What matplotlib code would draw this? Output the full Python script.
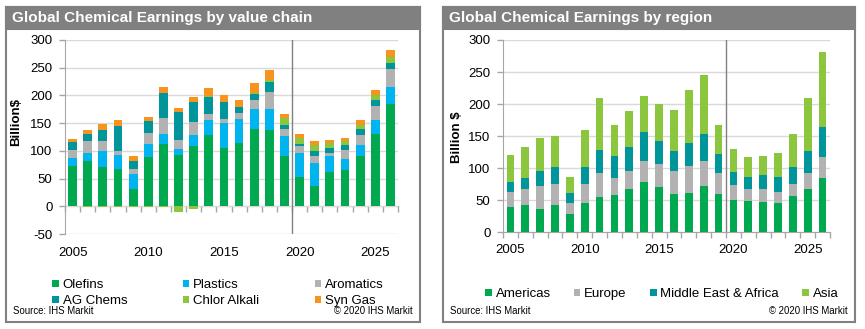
import numpy as np
import matplotlib
matplotlib.use('Agg')
import matplotlib.pyplot as plt
from matplotlib.patches import Rectangle

plt.rcParams['font.family'] = ['Liberation Sans', 'DejaVu Sans']
plt.rcParams['axes.unicode_minus'] = False

years = list(range(2005, 2027))
year_labels = ['2005', '2010', '2015', '2020', '2025']
split_year = 2020

# value chain (billion $)
olefins = [73, 82, 70, 68, 32, 89, 112, 93, 109, 129, 106, 114, 139, 137, 91, 53, 37, 62, 66, 91, 131, 184]
plastics = [14, 15, 29, 25, 26, 24, 18, 10, 19, 27, 44, 43, 36, 38, 35, 43, 41, 28, 19, 20, 24, 31]
aromatics = [15, 20, 18, 7, 10, 20, 30, 17, 24, 11, 8, 12, 17, 31, 13, 13, 12, 7, 17, 18, 26, 32]
ag_chems = [14, 13, 20, 44, 14, 20, 44, 50, 36, 31, 30, 10, 10, 18, 7, 4, 9, 9, 9, 10, 11, 11]
chlor_alkali = [0, -2, -1, -2, -1, -1, -2, -10, -5, 1, 1, 1, 2, 3, 14, 10, 12, 8, 7, 8, 8, 11]
syn_gas = [6, 7, 12, 11, 8, 8, 11, 8, 9, 15, 11, 11, 18, 19, 7, 7, 6, 5, 6, 8, 9, 13]

# region (billion $)
americas = [40, 43, 37, 42, 29, 45, 55, 58, 67, 79, 70, 59, 62, 73, 60, 51, 49, 47, 45, 56, 67, 85]
europe = [23, 24, 36, 33, 16, 30, 37, 26, 28, 33, 37, 37, 41, 38, 33, 23, 19, 20, 18, 19, 25, 33]
mea = [15, 17, 22, 27, 16, 27, 37, 35, 38, 45, 36, 31, 37, 43, 29, 20, 19, 22, 23, 27, 35, 46]
asia = [43, 49, 52, 49, 26, 57, 81, 48, 56, 56, 57, 64, 82, 92, 45, 36, 31, 30, 38, 52, 83, 117]

chain_names = ['Olefins', 'Plastics', 'Aromatics', 'AG Chems', 'Chlor Alkali', 'Syn Gas']
chain_colors = ['#00a84f', '#00b4f0', '#b2b2b2', '#00959a', '#8cc63e', '#f7941d']
region_names = ['Americas', 'Europe', 'Middle East & Africa', 'Asia']
region_colors = ['#00a84f', '#b2b2b2', '#00959a', '#8cc63e']

W, H = 865, 329
fig = plt.figure(figsize=(W / 100, H / 100), dpi=100)


def fx(px):
    return px / W


def fy(py):
    return 1 - py / H


def panel(x0, x1, title):
    fig.patches.append(Rectangle((fx(x0), fy(322)), fx(x1 - x0), (322 - 7) / H,
                                 transform=fig.transFigure, facecolor='white',
                                 edgecolor='#808080', lw=1.5, zorder=-5))
    fig.patches.append(Rectangle((fx(x0), fy(29)), fx(x1 - x0), 22 / H,
                                 transform=fig.transFigure, facecolor='#808080',
                                 edgecolor='#808080', lw=1.5, zorder=-5))
    fig.text(fx(x0 + 6), fy(18), title, color='white', fontsize=11,
             fontweight='bold', va='center', ha='left')
    fig.text(fx(x0 + 7), fy(311), 'Source: IHS Markit', fontsize=6.9, va='center')
    fig.text(fx(x1 - 7), fy(311), '\u00a9 2020 IHS Markit', fontsize=6.9,
             va='center', ha='right')


def stacked(ax, series, colors, names, width):
    x = np.arange(len(years))
    pos = np.zeros(len(years))
    neg = np.zeros(len(years))
    bars = []
    for vals, c, name in zip(series, colors, names):
        v = np.asarray(vals, dtype=float)
        base = np.where(v >= 0, pos, neg)
        bars.append(ax.bar(x, v, width, bottom=base, color=c, label=name, zorder=2))
        pos += np.clip(v, 0, None)
        neg += np.clip(v, None, 0)
    return bars


def style_axes(ax, ymin, ymax, xpad):
    n = len(years)
    ax.set_xlim(-0.5, n - 0.5)
    ax.set_ylim(ymin, ymax)
    ax.set_yticks(np.arange(ymin, ymax + 1, 50))
    ax.yaxis.grid(True, color='#d9d9d9', lw=1)
    ax.set_axisbelow(True)
    for s in ['top', 'right', 'bottom']:
        ax.spines[s].set_visible(False)
    ax.spines['left'].set_color('#a6a6a6')
    ax.tick_params(axis='y', length=4, width=1, color='#a6a6a6', pad=5,
                   labelsize=9.5)
    ax.set_xticks([years.index(int(y)) for y in year_labels])
    ax.set_xticklabels(year_labels)
    ax.tick_params(axis='x', length=0, pad=xpad, labelsize=9.5)
    # zero line with ticks between the bars
    sec = ax.secondary_xaxis((0 - ymin) / (ymax - ymin))
    sec.set_xticks(np.arange(-0.5, n, 1))
    sec.set_xticklabels([])
    sec.tick_params(length=4, width=1, color='#a6a6a6')
    sec.spines['bottom'].set_color('#a6a6a6')
    ax.axvline(years.index(split_year) - 0.5, color='#808080', lw=1, zorder=3)


# left panel
panel(6, 420, 'Global Chemical Earnings by value chain')
ax1 = fig.add_axes([fx(65), fy(234), fx(333), 194 / H])
b1 = stacked(ax1, [olefins, plastics, aromatics, ag_chems, chlor_alkali, syn_gas],
             chain_colors, chain_names, 0.58)
style_axes(ax1, -50, 300, 9)
fig.text(fx(16), fy(122), 'Billion$', rotation=90, fontsize=9.5,
         fontweight='bold', va='center', ha='center')
order = [0, 3, 1, 4, 2, 5]
ax1.legend([b1[i] for i in order], [chain_names[i] for i in order], ncol=3,
           loc='upper left', bbox_to_anchor=(fx(52), fy(279)),
           bbox_transform=fig.transFigure, frameon=False, fontsize=9.5,
           handlelength=0.5, handleheight=0.5, handletextpad=0.3,
           columnspacing=4.2, labelspacing=0.3, borderpad=0, borderaxespad=0)

# right panel
panel(443, 855, 'Global Chemical Earnings by region')
ax2 = fig.add_axes([fx(503), fy(232.3), fx(327), 192.3 / H])
b2 = stacked(ax2, [americas, europe, mea, asia], region_colors, region_names, 0.52)
style_axes(ax2, 0, 300, 8.5)
fig.text(fx(457), fy(137), 'Billion $', rotation=90, fontsize=9.5,
         fontweight='bold', va='center', ha='center')
ax2.legend(b2, region_names, ncol=4, loc='upper left',
           bbox_to_anchor=(fx(485), fy(288)), bbox_transform=fig.transFigure,
           frameon=False, fontsize=9.5, handlelength=0.5, handleheight=0.5,
           handletextpad=0.3, columnspacing=1.75, borderpad=0, borderaxespad=0)

fig.savefig('out.png', dpi=100)
